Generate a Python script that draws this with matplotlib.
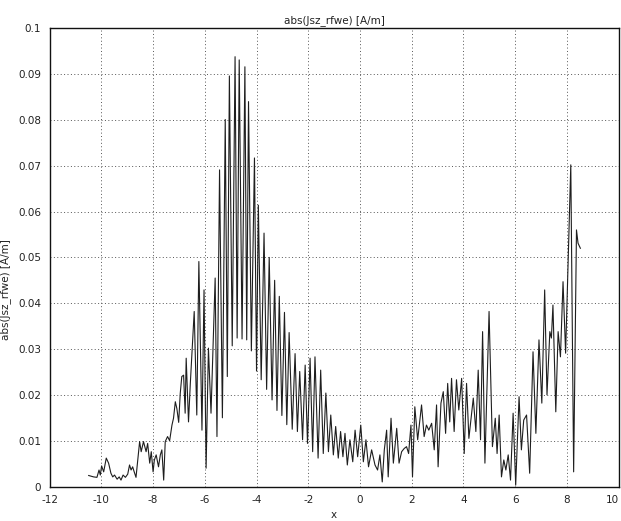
import matplotlib
matplotlib.use('Agg')
import matplotlib.pyplot as plt
import numpy as np

# values (peaks / troughs of the trace)
x_vals = [
    -10.49, -10.30, -10.17, -10.09, -10.04, -9.99, -9.91, -9.81, -9.72, -9.63,
    -9.56, -9.49, -9.39, -9.31, -9.24, -9.16, -9.07, -8.98, -8.91, -8.85,
    -8.79, -8.73, -8.66, -8.60, -8.52, -8.46, -8.37, -8.27, -8.21, -8.13,
    -8.07, -8.00, -7.95, -7.88, -7.79, -7.72, -7.66, -7.59, -7.53, -7.44,
    -7.36, -7.27, -7.21, -7.14, -7.08, -7.01, -6.95, -6.89, -6.82, -6.76,
    -6.72, -6.63, -6.56, -6.41, -6.31, -6.23, -6.11, -6.03, -5.95, -5.86,
    -5.76, -5.60, -5.53,
    -5.43, -5.32, -5.21, -5.13, -5.05, -4.94, -4.83, -4.75, -4.67, -4.56,
    -4.45, -4.38, -4.31, -4.20, -4.08, -4.00, -3.93, -3.82, -3.71, -3.61,
    -3.51, -3.40, -3.30, -3.21, -3.12, -3.02, -2.92, -2.83, -2.74, -2.62,
    -2.51, -2.42, -2.33, -2.22, -2.12, -2.03, -1.93, -1.83, -1.74, -1.62,
    -1.52, -1.42, -1.32, -1.22, -1.13, -1.03, -0.94, -0.84, -0.75, -0.66,
    -0.58, -0.49, -0.39, -0.28, -0.19, -0.09, 0.03, 0.13, 0.23, 0.33,
    0.45, 0.58, 0.68, 0.77, 0.86, 0.94, 1.03, 1.09, 1.20, 1.29,
    1.42, 1.51, 1.61, 1.71, 1.80, 1.88, 1.97, 2.03, 2.12, 2.23,
    2.38, 2.48, 2.57, 2.66, 2.77, 2.87, 2.96, 3.02, 3.13, 3.22,
    3.31, 3.39, 3.47, 3.54, 3.64, 3.73, 3.82, 3.93, 4.03, 4.12,
    4.21, 4.38, 4.48, 4.57, 4.66, 4.74, 4.83, 4.99, 5.12, 5.23,
    5.30, 5.38, 5.47, 5.56, 5.64, 5.73, 5.82, 5.92, 6.02, 6.15,
    6.24, 6.33, 6.44, 6.56, 6.69, 6.80, 6.92, 7.03, 7.14, 7.23,
    7.34, 7.40, 7.46, 7.57, 7.66, 7.75, 7.85, 7.95, 8.15, 8.26,
    8.37, 8.43, 8.52,
]
y_vals = [
    .0024, .0021, .0020, .0036, .0025, .0045, .0032, .0062, .0051, .0029,
    .0021, .0025, .0016, .0021, .0014, .0025, .0020, .0027, .0047, .0036,
    .0043, .0032, .0020, .0054, .0098, .0076, .0098, .0076, .0094, .0051,
    .0076, .0032, .0058, .0069, .0043, .0069, .0080, .0014, .0098, .0109,
    .0100, .0134, .0149, .0185, .0170, .0140, .0203, .0240, .0243, .0160,
    .0280, .0141, .0225, .0382, .0156, .0491, .0123, .0429, .0040, .0302,
    .0160, .0455, .0109,
    .0691, .0150, .0801, .0240, .0896, .0307, .0938, .0324, .0931, .0322,
    .0916, .0320, .0840, .0296, .0717, .0252, .0614, .0233, .0553, .0212,
    .0500, .0189, .0450, .0166, .0415, .0155, .0380, .0135, .0336, .0125,
    .0290, .0120, .0251, .0102, .0265, .0094, .0280, .0076, .0283, .0062,
    .0254, .0072, .0204, .0076, .0156, .0069, .0131, .0062, .0120, .0065,
    .0116, .0047, .0102, .0054, .0123, .0065, .0134, .0054, .0102, .0043,
    .0080, .0047, .0036, .0069, .0010, .0080, .0123, .0021, .0149, .0051,
    .0127, .0051, .0076, .0083, .0087, .0072, .0134, .0021, .0174, .0102,
    .0178, .0109, .0134, .0123, .0138, .0080, .0178, .0043, .0182, .0207,
    .0116, .0225, .0141, .0236, .0120, .0233, .0167, .0236, .0072, .0225,
    .0105, .0193, .0120, .0254, .0102, .0338, .0051, .0382, .0087, .0149,
    .0072, .0156, .0021, .0058, .0036, .0069, .0014, .0160, .0003, .0196,
    .0080, .0145, .0156, .0029, .0294, .0116, .0320, .0182, .0429, .0200,
    .0338, .0324, .0396, .0163, .0338, .0283, .0447, .0291, .0702, .0032,
    .0560, .0531, .0520,
]

x_ticks = [-12, -10, -8, -6, -4, -2, 0, 2, 4, 6, 8, 10]
y_ticks = [0, 0.01, 0.02, 0.03, 0.04, 0.05, 0.06, 0.07, 0.08, 0.09, 0.1]
y_tick_labels = ['0', '0.01', '0.02', '0.03', '0.04', '0.05',
                 '0.06', '0.07', '0.08', '0.09', '0.1']
title = 'abs(Jsz_rfwe) [A/m]'

plt.rcParams['axes.unicode_minus'] = False
plt.rcParams['font.family'] = 'DejaVu Sans'

fig = plt.figure(figsize=(6.21, 5.21), dpi=100)
ax = fig.add_axes([0.0799, 0.0662, 0.9163, 0.8795])

ax.plot(x_vals, y_vals, color='#1e1e1e', lw=0.8)

ax.set_xlim(-12, 10)
ax.set_ylim(0, 0.1)
ax.set_xticks(x_ticks)
ax.set_yticks(y_ticks)
ax.set_yticklabels(y_tick_labels)
ax.tick_params(length=0, labelsize=7.5, colors='#222222', pad=6)
# last x label sits at the figure edge, keep it inside
ax.get_xticklabels()[-1].set_horizontalalignment('right')
ax.grid(True, color='#555555', linestyle=(0, (1, 2.5)), linewidth=0.7)
for s in ax.spines.values():
    s.set_linewidth(1.0)
    s.set_color('#111111')

ax.set_title(title, fontsize=7.5, pad=4, color='#222222')
ax.set_xlabel('x', fontsize=7.5, color='#222222')
ax.set_ylabel(title, fontsize=7.5, color='#222222')
ax.yaxis.set_label_coords(-0.068, 0.43)
ax.xaxis.set_label_coords(0.5, -0.052)

fig.savefig('out.png', dpi=100)
